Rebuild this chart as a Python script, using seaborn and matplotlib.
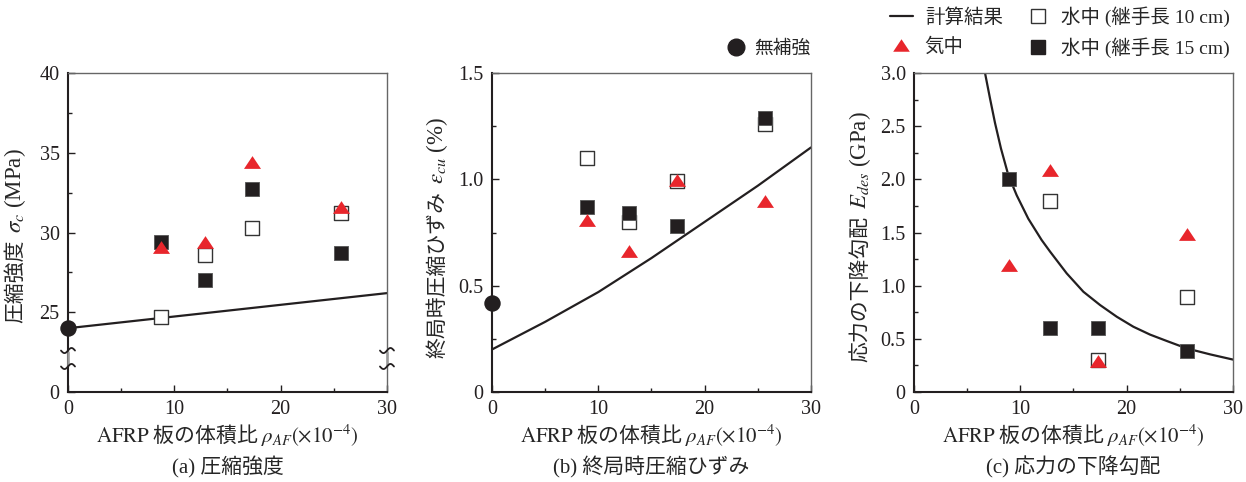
import matplotlib
matplotlib.use("Agg")
import matplotlib.pyplot as plt
import numpy as np
import pandas as pd
import seaborn as sns
from matplotlib.lines import Line2D
from matplotlib.ticker import FixedLocator, MultipleLocator

# (a) compressive strength, MPa
rho_a = [8.7, 12.85, 17.3, 25.7]
sig_air = [29.1, 29.4, 34.4, 31.6]
sig_w10 = [24.7, 28.6, 30.3, 31.2]
sig_w15 = [29.4, 27.0, 32.7, 28.7]
sig_plain = 24.0
calc_a_x = [0, 30]
calc_a_y = [24.0, 26.2]

# (b) ultimate strain, %
rho_b = [8.95, 12.9, 17.4, 25.7]
eps_air = [0.81, 0.665, 0.995, 0.90]
eps_w10 = [1.10, 0.80, 0.99, 1.26]
eps_w15 = [0.87, 0.84, 0.78, 1.29]
eps_plain = 0.42
calc_b_x = [0, 5, 10, 15, 20, 25, 30]
calc_b_y = [0.20, 0.33, 0.47, 0.63, 0.80, 0.97, 1.15]

# (c) descending slope, GPa
rho_c = [8.95, 12.8, 17.35, 25.7]
e_air = [1.19, 2.09, 0.29, 1.49]
e_w10 = [np.nan, 1.80, 0.30, 0.895]
e_w15 = [2.0, 0.6, 0.6, 0.39]
calc_c_x = [6.68, 7.15, 7.62, 8.18, 8.87, 9.66, 10.75, 12.0, 12.8, 14.36,
            15.93, 17.5, 19.07, 20.63, 22.2, 23.77, 25.65, 27.85, 30.0]
calc_c_y = [3.0, 2.76, 2.53, 2.29, 2.04, 1.85, 1.63, 1.43, 1.32, 1.116,
            0.943, 0.818, 0.708, 0.614, 0.54, 0.48, 0.41, 0.354, 0.305]

RED = "#E8262C"
BLK = "#231F20"
TRI = [(-1, -0.75), (1, -0.75), (0, 0.75)]
JP = "Noto Sans CJK JP"

sns.set_style("ticks")
plt.rcParams["font.family"] = ["Liberation Serif", JP]
plt.rcParams["mathtext.fontset"] = "stix"

fig = plt.figure(figsize=(12.46, 4.82), dpi=100)
lefts = [68 / 1246, 492 / 1246, 914 / 1246]
axes = [fig.add_axes([l, 0.1867, 0.256, 0.6618]) for l in lefts]


def draw_panel(ax, rho, air, w10, w15, calc_x, calc_y, plain=None):
    sns.lineplot(x=calc_x, y=calc_y, color=BLK, lw=1.6, ax=ax, zorder=2)
    d = pd.DataFrame({"rho": rho, "air": air, "w10": w10, "w15": w15})
    sns.scatterplot(data=d, x="rho", y="w10", marker="s", s=115, color="white",
                    edgecolor="#333333", linewidth=1.0, ax=ax, zorder=3)
    sns.scatterplot(data=d, x="rho", y="w15", marker="s", s=115, color=BLK,
                    edgecolor="#555555", linewidth=0.6, ax=ax, zorder=4)
    sns.scatterplot(data=d, x="rho", y="air", marker=TRI, s=150, color=RED,
                    linewidth=0, ax=ax, zorder=5)
    if plain is not None:
        sns.scatterplot(x=[0], y=[plain], marker="o", s=140, color=BLK,
                        linewidth=0, ax=ax, zorder=6, clip_on=False)
    ax.set_xlim(0, 30)
    ax.xaxis.set_major_locator(FixedLocator([0, 10, 20, 30]))
    ax.xaxis.set_minor_locator(FixedLocator([5, 15, 25]))
    ax.tick_params(which="both", direction="in", labelsize=14.5, colors=BLK, pad=6)
    ax.tick_params(which="major", length=5, width=1)
    ax.tick_params(which="minor", length=3, width=1)
    for s in ["left", "bottom"]:
        ax.spines[s].set_linewidth(1.5)
        ax.spines[s].set_color(BLK)
    for s in ["top", "right"]:
        ax.spines[s].set_linewidth(1.0)
        ax.spines[s].set_color("#666666")
    ax.set_ylabel("")
    ax.set_xlabel(r"$\mathrm{AFRP}$ 板の体積比 $\rho_{AF}\mathrm{(\times10^{-4})}$",
                  family=JP, fontsize=15, labelpad=2)


def set_ylab(ax, xpix, ybot, jp, sym):
    # Japanese part first, then the symbol and unit stacked above it
    t1 = fig.text(xpix / 1246, 1 - ybot / 482, jp, rotation=90, ha="center",
                  va="bottom", family=JP, fontsize=15)
    ax.annotate(sym, xy=(0.5, 1.0), xycoords=t1, xytext=(0, 5),
                textcoords="offset points", rotation=90, ha="center", va="bottom",
                fontsize=16.5, annotation_clip=False)


ax_a, ax_b, ax_c = axes
draw_panel(ax_a, rho_a, sig_air, sig_w10, sig_w15, calc_a_x, calc_a_y, sig_plain)
ax_a.set_ylim(20, 40)
ax_a.yaxis.set_major_locator(FixedLocator([20, 25, 30, 35, 40]))
ax_a.set_yticklabels(["0", "25", "30", "35", "40"])
ax_a.yaxis.set_minor_locator(FixedLocator([27.5, 32.5, 37.5]))
set_ylab(ax_a, 15, 323, "圧縮強度", r"$\sigma_c$ (MPa)")

# axis-break marks on both vertical spines of (a)
tt = np.linspace(-1, 1, 40)
for xb in [0, 1]:
    ax_a.plot([xb, xb], [0.085, 0.125], color="#9a9a9a", lw=1.8,
              transform=ax_a.transAxes, clip_on=False, zorder=6)
    for yb in [0.13, 0.08]:
        ax_a.plot(xb + 0.022 * tt, yb + 0.008 * np.sin(np.pi * tt), color=BLK, lw=1.3,
                  transform=ax_a.transAxes, clip_on=False, zorder=7)

draw_panel(ax_b, rho_b, eps_air, eps_w10, eps_w15, calc_b_x, calc_b_y, eps_plain)
ax_b.set_ylim(0, 1.5)
ax_b.yaxis.set_major_locator(FixedLocator([0, 0.5, 1.0, 1.5]))
ax_b.set_yticklabels(["0", "0.5", "1.0", "1.5"])
ax_b.yaxis.set_minor_locator(MultipleLocator(0.25))
set_ylab(ax_b, 437, 358, "終局時圧縮ひずみ", r"$\varepsilon_{cu}$ (%)")

draw_panel(ax_c, rho_c, e_air, e_w10, e_w15, calc_c_x, calc_c_y)
ax_c.set_ylim(0, 3.0)
ax_c.yaxis.set_major_locator(FixedLocator([0, 0.5, 1.0, 1.5, 2.0, 2.5, 3.0]))
ax_c.set_yticklabels(["0", "0.5", "1.0", "1.5", "2.0", "2.5", "3.0"])
ax_c.yaxis.set_minor_locator(MultipleLocator(0.25))
set_ylab(ax_c, 860, 362, "応力の下降勾配", r"$E_{des}$ (GPa)")

for ax, t in zip(axes, ["(a) 圧縮強度", "(b) 終局時圧縮ひずみ", "(c) 応力の下降勾配"]):
    pos = ax.get_position()
    fig.text(pos.x0 + pos.width / 2, 0.031, t, ha="center", va="center", fontsize=15)

h_calc = Line2D([], [], color=BLK, lw=1.6)
h_air = Line2D([], [], ls="", marker=TRI, ms=12, color=RED, mew=0)
h_w10 = Line2D([], [], ls="", marker="s", ms=10, mfc="white", mec="#333333", mew=1.0)
h_w15 = Line2D([], [], ls="", marker="s", ms=10, mfc=BLK, mec=BLK)
h_plain = Line2D([], [], ls="", marker="o", ms=12, color=BLK)

fig.legend([h_calc, h_air, h_w10, h_w15],
           ["計算結果", "気中", "水中 (継手長 10 cm)", "水中 (継手長 15 cm)"],
           ncol=2, loc="upper left", bbox_to_anchor=(882 / 1246, 1.004),
           frameon=False, fontsize=14, handlelength=1.2, handletextpad=0.6,
           columnspacing=1.2, labelspacing=0.55, borderaxespad=0)
fig.legend([h_plain], ["無補強"], loc="upper right",
           bbox_to_anchor=(818 / 1246, 0.932), frameon=False, fontsize=13.5,
           handlelength=1.0, handletextpad=0.5, borderaxespad=0)

fig.savefig("out.png", dpi=100)
